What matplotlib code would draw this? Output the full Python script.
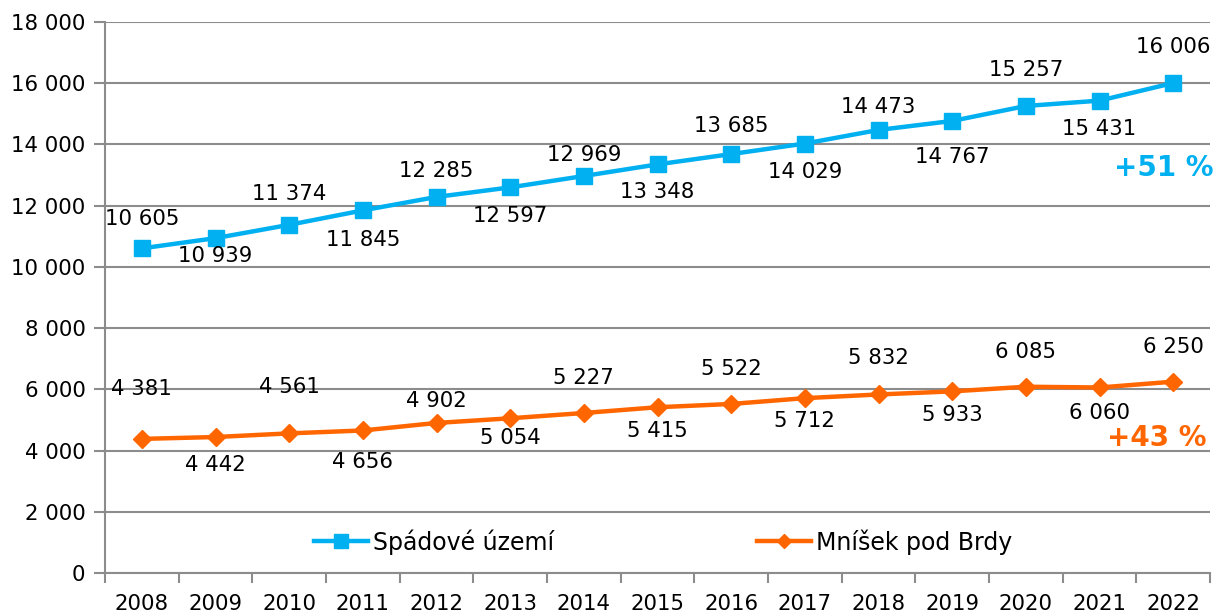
import numpy as np
import matplotlib.pyplot as plt
from matplotlib.ticker import FixedLocator, FuncFormatter

years = list(range(2008, 2023))
spadove = [10605, 10939, 11374, 11845, 12285, 12597, 12969, 13348, 13685, 14029,
           14473, 14767, 15257, 15431, 16006]
mnisek = [4381, 4442, 4561, 4656, 4902, 5054, 5227, 5415, 5522, 5712,
          5832, 5933, 6085, 6060, 6250]

# label offsets in pixels (negative = above the point)
blue_off = [-29, 18, -31, 30, -26, 29, -21, 28, -28, 28, -23, 36, -36, 28, -36]
orange_off = [-50, 28, -46, 32, -22, 20, -35, 24, -35, 23, -36, 24, -35, 26, -35]

BLUE = '#00B0F0'
ORANGE = '#FF6600'
GRID = '#8C8C8C'
FS = 15.3

def fmt(v):
    return f"{int(v):,}".replace(",", " ")

plt.rcParams['font.family'] = ['DejaVu Sans']
fig = plt.figure(figsize=(12.16, 6.13), dpi=100)
ax = fig.add_axes([105/1216, 1 - 573/613, 1105/1216, 551/613])

x = np.arange(len(years))
ax.plot(x, spadove, color=BLUE, lw=3.2, marker='s', ms=12, label='Spádové území', zorder=3)
ax.plot(x, mnisek, color=ORANGE, lw=3.2, marker='D', ms=9, label='Mníšek pod Brdy', zorder=3)

px = 72 / 100
for xi, v, o in zip(x, spadove, blue_off):
    ax.annotate(fmt(v), (xi, v), xytext=(0, -o * px), textcoords='offset points',
                ha='center', va='center', fontsize=FS, color='black')
for xi, v, o in zip(x, mnisek, orange_off):
    ax.annotate(fmt(v), (xi, v), xytext=(0, -o * px), textcoords='offset points',
                ha='center', va='center', fontsize=FS, color='black')

ax.text(1.003, (573 - 168) / 551, '+51 %', transform=ax.transAxes, ha='right', va='center',
        fontsize=20, fontweight='bold', color=BLUE)
ax.text(0.997, (573 - 438) / 551, '+43 %', transform=ax.transAxes, ha='right', va='center',
        fontsize=20, fontweight='bold', color=ORANGE)

ax.set_xlim(-0.5, len(years) - 0.5)
ax.set_ylim(0, 18000)
ax.set_yticks(np.arange(0, 18001, 2000))
ax.yaxis.set_major_formatter(FuncFormatter(lambda v, p: fmt(v)))
ax.set_xticks(x)
ax.set_xticklabels([str(y) for y in years])
ax.xaxis.set_minor_locator(FixedLocator(np.arange(-0.5, len(years), 1)))
ax.tick_params(axis='x', which='major', length=0, labelsize=FS, pad=15)
ax.tick_params(axis='x', which='minor', length=7, width=1.5, color=GRID)
ax.tick_params(axis='y', length=8, width=1.5, color=GRID, labelsize=FS, pad=6)

ax.grid(axis='y', color=GRID, lw=1.5)
ax.set_axisbelow(True)
for s in ['top', 'right']:
    ax.spines[s].set_visible(False)
for s in ['left', 'bottom']:
    ax.spines[s].set_color(GRID)
    ax.spines[s].set_linewidth(1.5)

ax.legend(loc='center', bbox_to_anchor=(0.505, (573 - 542) / 551), ncol=2, frameon=False,
          fontsize=17, handlelength=2.3, columnspacing=8.6, handletextpad=0.2,
          markerscale=0.8)

fig.savefig('out.png', dpi=100)
